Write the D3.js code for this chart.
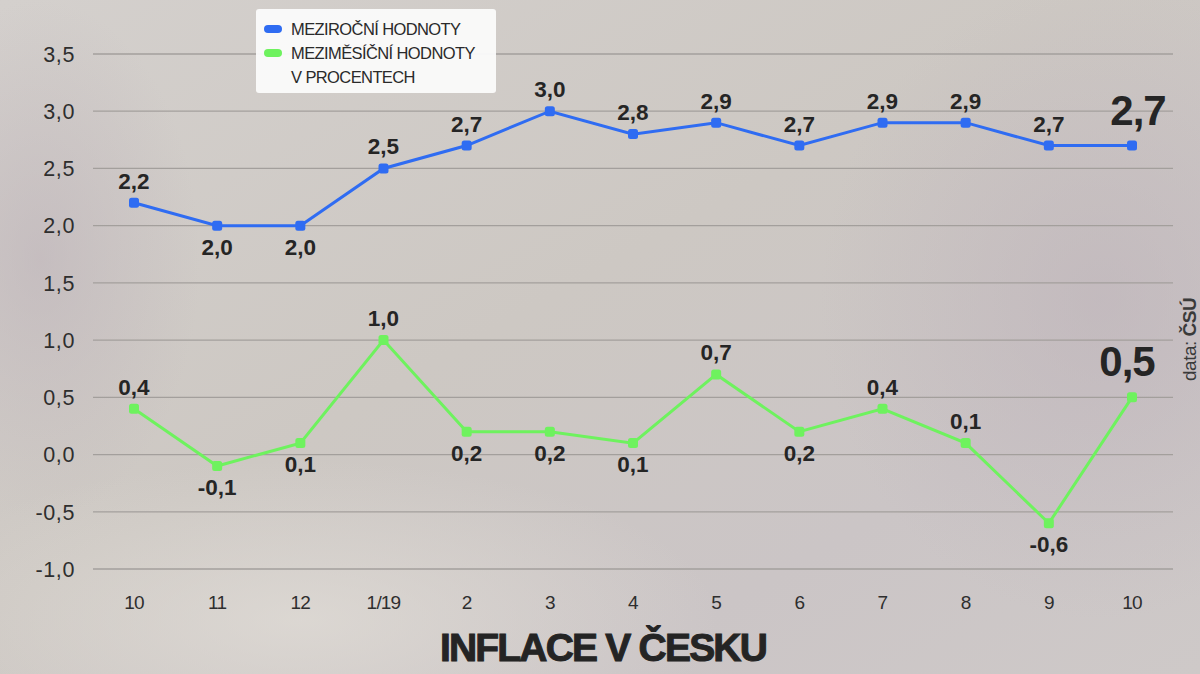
<!DOCTYPE html>
<html>
<head>
<meta charset="utf-8">
<script src="https://cdn.jsdelivr.net/npm/d3@7"></script>
<style>
  html, body { margin: 0; padding: 0; }
  body { width: 1200px; height: 674px; overflow: hidden; }
  text { font-family: "Liberation Sans", Arial, sans-serif; }
</style>
</head>
<body>
<div id="chart"></div>
<script>
// Data
const months = ["10", "11", "12", "1/19", "2", "3", "4", "5", "6", "7", "8", "9", "10"];
const yearOnYear = [2.2, 2.0, 2.0, 2.5, 2.7, 3.0, 2.8, 2.9, 2.7, 2.9, 2.9, 2.7, 2.7];
const monthOnMonth = [0.4, -0.1, 0.1, 1.0, 0.2, 0.2, 0.1, 0.7, 0.2, 0.4, 0.1, -0.6, 0.5];
// label placement: 1 = above, -1 = below
const yoyLabelSide = [1, -1, -1, 1, 1, 1, 1, 1, 1, 1, 1, 1, 1];
const momLabelSide = [1, -1, -1, 1, -1, -1, -1, 1, -1, 1, 1, -1, 1];
const yTicks = [-1.0, -0.5, 0.0, 0.5, 1.0, 1.5, 2.0, 2.5, 3.0, 3.5];
const legendItems = ["MEZIROČNÍ HODNOTY", "MEZIMĚSÍČNÍ HODNOTY", "V PROCENTECH"];

const width = 1200;
const height = 674;
const blue = "#2f6cf2";
const green = "#6ef25e";
const fmt = v => d3.format(".1f")(v).replace(".", ",").replace("−", "-");

const svg = d3.select("#chart")
    .append("svg")
    .attr("width", width)
    .attr("height", height)
    .attr("viewBox", `0 0 ${width} ${height}`);

// Background
const defs = svg.append("defs");
const bg = defs.append("linearGradient")
    .attr("id", "bg")
    .attr("x1", "0%").attr("y1", "0%")
    .attr("x2", "100%").attr("y2", "100%");
bg.append("stop").attr("offset", "0%").attr("stop-color", "#d4d0cd");
bg.append("stop").attr("offset", "45%").attr("stop-color", "#cdc8c3");
bg.append("stop").attr("offset", "75%").attr("stop-color", "#cbc5c6");
bg.append("stop").attr("offset", "100%").attr("stop-color", "#cec9c8");

const shade = defs.append("radialGradient").attr("id", "shade");
shade.append("stop").attr("offset", "0%").attr("stop-color", "#bcb1b8").attr("stop-opacity", 0.55);
shade.append("stop").attr("offset", "100%").attr("stop-color", "#bcb1b8").attr("stop-opacity", 0);

const light = defs.append("radialGradient").attr("id", "light");
light.append("stop").attr("offset", "0%").attr("stop-color", "#e2ded8").attr("stop-opacity", 0.7);
light.append("stop").attr("offset", "100%").attr("stop-color", "#e2ded8").attr("stop-opacity", 0);

svg.append("rect").attr("width", width).attr("height", height).attr("fill", "url(#bg)");
svg.append("ellipse").attr("cx", 1100).attr("cy", 300).attr("rx", 280).attr("ry", 320).attr("fill", "url(#shade)");
svg.append("ellipse").attr("cx", 40).attr("cy", 260).attr("rx", 160).attr("ry", 260).attr("fill", "url(#shade)");
svg.append("ellipse").attr("cx", 300).attr("cy", 620).attr("rx", 420).attr("ry", 160).attr("fill", "url(#light)");

// Scales
const x = d3.scalePoint()
    .domain(d3.range(months.length))
    .range([134, 1132]);

const y = d3.scaleLinear()
    .domain([-1.0, 3.5])
    .range([569, 54]);

// Grid
svg.append("g")
    .selectAll("line")
    .data(yTicks)
    .join("line")
    .attr("x1", 93)
    .attr("x2", 1173)
    .attr("y1", d => y(d))
    .attr("y2", d => y(d))
    .attr("stroke", "#a39f9c")
    .attr("stroke-width", 1.3);

// Y axis labels
svg.append("g")
    .selectAll("text")
    .data(yTicks)
    .join("text")
    .attr("x", 75)
    .attr("y", d => y(d))
    .attr("dy", "0.36em")
    .attr("text-anchor", "end")
    .attr("font-size", 21.5)
    .attr("letter-spacing", 0.6)
    .attr("fill", "#2e2e2e")
    .text(d => fmt(d));

// X axis labels
svg.append("g")
    .selectAll("text")
    .data(months)
    .join("text")
    .attr("x", (d, i) => x(i))
    .attr("y", 609)
    .attr("text-anchor", "middle")
    .attr("font-size", 19)
    .attr("fill", "#2e2e2e")
    .attr("letter-spacing", -0.8)
    .text(d => d);

// Series
function drawSeries(values, sides, color, lastDx) {
    const line = d3.line()
        .x((d, i) => x(i))
        .y(d => y(d));

    svg.append("path")
        .datum(values)
        .attr("fill", "none")
        .attr("stroke", color)
        .attr("stroke-width", 3)
        .attr("d", line);

    svg.append("g")
        .selectAll("rect")
        .data(values)
        .join("rect")
        .attr("x", (d, i) => x(i) - 5)
        .attr("y", d => y(d) - 5)
        .attr("width", 10)
        .attr("height", 10)
        .attr("rx", 2.5)
        .attr("fill", color);

    const last = values.length - 1;
    svg.append("g")
        .selectAll("text")
        .data(values)
        .join("text")
        .attr("x", (d, i) => x(i) + (i === last ? lastDx : 0))
        .attr("y", (d, i) => {
            if (i === last) return y(d) - 21;
            return sides[i] > 0 ? y(d) - 14 : y(d) + 29;
        })
        .attr("text-anchor", "middle")
        .attr("font-size", (d, i) => i === last ? 42 : 22.5)
        .attr("font-weight", "bold")
        .attr("letter-spacing", (d, i) => i === last ? -1 : 0)
        .attr("fill", "#252525")
        .text(d => fmt(d));
}

drawSeries(yearOnYear, yoyLabelSide, blue, 6);
drawSeries(monthOnMonth, momLabelSide, green, -5);

// Legend
const legend = svg.append("g").attr("transform", "translate(256, 9)");
legend.append("rect")
    .attr("width", 240)
    .attr("height", 84)
    .attr("rx", 3)
    .attr("fill", "#fbfbfb")
    .attr("opacity", 0.95);

legend.selectAll("rect.key")
    .data([blue, green])
    .join("rect")
    .attr("class", "key")
    .attr("x", 8)
    .attr("y", (d, i) => 16 + i * 24)
    .attr("width", 18)
    .attr("height", 8)
    .attr("rx", 4)
    .attr("fill", d => d);

legend.selectAll("text.item")
    .data(legendItems)
    .join("text")
    .attr("class", "item")
    .attr("x", 35)
    .attr("y", (d, i) => 26 + i * 24)
    .attr("font-size", 16.5)
    .attr("letter-spacing", -0.6)
    .attr("fill", "#2a2a2a")
    .text(d => d);

// Title
svg.append("text")
    .attr("x", 603)
    .attr("y", 661)
    .attr("text-anchor", "middle")
    .attr("font-size", 39)
    .attr("font-weight", "bold")
    .attr("letter-spacing", -1.8)
    .attr("fill", "#242424")
    .attr("stroke", "#242424")
    .attr("stroke-width", 1)
    .text("INFLACE V ČESKU");

// Source
svg.append("text")
    .attr("transform", "translate(1196, 381) rotate(-90)")
    .attr("font-size", 19)
    .attr("fill", "#3a3a3a")
    .attr("letter-spacing", -0.5)
    .call(t => {
        t.append("tspan").text("data: ");
        t.append("tspan").attr("font-weight", "bold").text("ČSÚ");
    });
</script>
</body>
</html>
